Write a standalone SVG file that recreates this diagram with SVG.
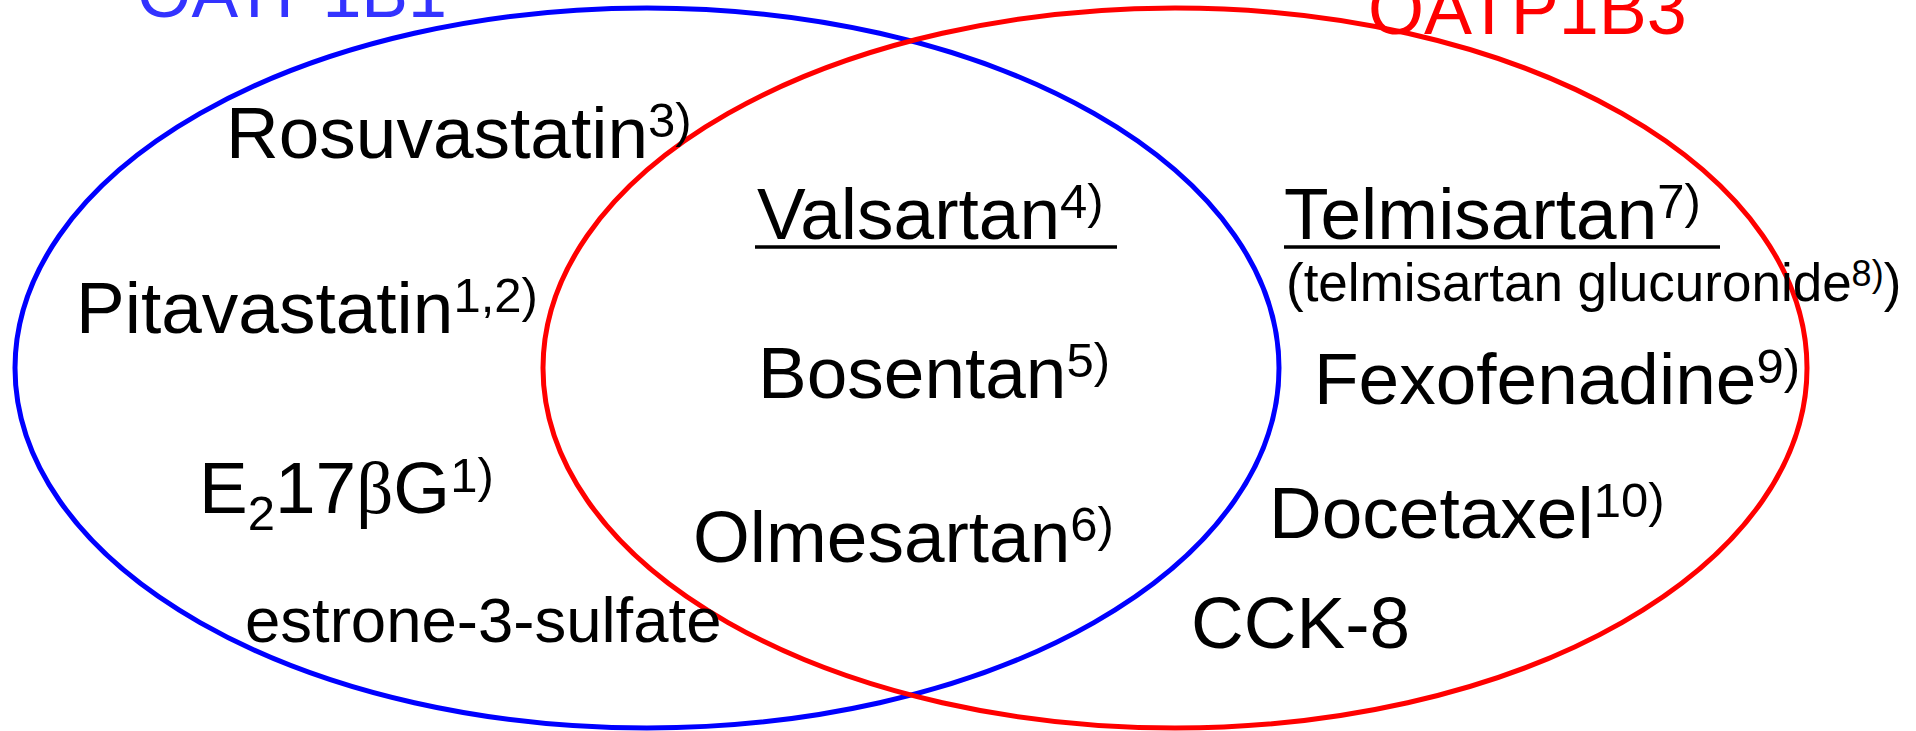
<svg xmlns="http://www.w3.org/2000/svg" width="1916" height="731" viewBox="0 0 1916 731">
  <style>
    .set { fill: none; stroke-width: 5; }
    .lbl { font-family: "Liberation Sans", Arial, sans-serif; font-size: 73px; fill: #000; }
    .sup { font-size: 49px; }
    .small { font-size: 53px; }
    .greek { font-family: "Liberation Serif", "Times New Roman", serif; }
    .uline { stroke: #000; stroke-width: 3.5; }
  </style>
  <rect width="1916" height="731" fill="#fff"/>

  <!-- transporter sets -->
  <g id="sets">
    <ellipse id="set-oatp1b1" class="set" cx="647" cy="368" rx="632" ry="360" stroke="#0000FF"/>
    <ellipse id="set-oatp1b3" class="set" cx="1175" cy="368" rx="632" ry="360" stroke="#FF0000"/>
  </g>

  <!-- set titles -->
  <g id="title-oatp1b1">
    <text class="lbl" x="137" y="17" style="font-size:70px;fill:#3333FF">OATP1B1</text>
  </g>
  <g id="title-oatp1b3">
    <text class="lbl" x="1368" y="34" style="font-size:72px;fill:#FF0000">OATP1B3</text>
  </g>

  <!-- OATP1B1 only -->
  <g id="rosuvastatin">
    <text class="lbl" x="226" y="158">Rosuvastatin<tspan class="sup" dy="-21">3)</tspan></text>
  </g>
  <g id="pitavastatin">
    <text class="lbl" x="76" y="333">Pitavastatin<tspan class="sup" dy="-21">1,2)</tspan></text>
  </g>
  <g id="e217bg">
    <text class="lbl" x="199" y="513">E<tspan class="sup" dy="17">2</tspan><tspan dy="-17">17</tspan><tspan class="greek">β</tspan>G<tspan class="sup" dy="-21">1)</tspan></text>
  </g>
  <g id="estrone-3-sulfate">
    <text class="lbl" x="245" y="642" style="font-size:63.5px">estrone-3-sulfate</text>
  </g>

  <!-- shared substrates -->
  <g id="valsartan">
    <text class="lbl" x="757" y="239">Valsartan<tspan class="sup" dy="-21">4)</tspan></text>
    <line class="uline" x1="755" y1="247" x2="1117" y2="247"/>
  </g>
  <g id="bosentan">
    <text class="lbl" x="758" y="398">Bosentan<tspan class="sup" dy="-21">5)</tspan></text>
  </g>
  <g id="olmesartan">
    <text class="lbl" x="693" y="562">Olmesartan<tspan class="sup" dy="-21">6)</tspan></text>
  </g>

  <!-- OATP1B3 only -->
  <g id="telmisartan">
    <text class="lbl" x="1284" y="239">Telmisartan<tspan class="sup" dy="-21">7)</tspan></text>
    <line class="uline" x1="1284" y1="247" x2="1720" y2="247"/>
  </g>
  <g id="telmisartan-glucuronide">
    <text class="lbl small" x="1286" y="301">(telmisartan glucuronide<tspan style="font-size:36px" dy="-15">8)</tspan><tspan dy="15">)</tspan></text>
  </g>
  <g id="fexofenadine">
    <text class="lbl" x="1314" y="404">Fexofenadine<tspan class="sup" dy="-21">9)</tspan></text>
  </g>
  <g id="docetaxel">
    <text class="lbl" x="1269" y="538">Docetaxel<tspan class="sup" dy="-21">10)</tspan></text>
  </g>
  <g id="cck-8">
    <text class="lbl" x="1191" y="648">CCK-8</text>
  </g>
</svg>
